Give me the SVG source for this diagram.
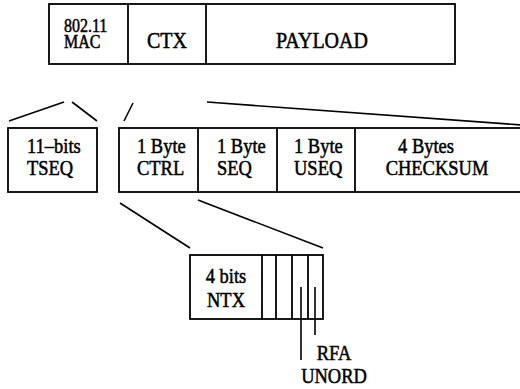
<svg xmlns="http://www.w3.org/2000/svg" width="520" height="389" viewBox="0 0 520 389" font-family="'Liberation Serif', 'DejaVu Serif', 'Times New Roman', serif">
<style>
.box{fill:#fff;stroke:#000;stroke-width:1.8}
.div{stroke:#000;stroke-width:1.8}
.con line{stroke:#000;stroke-width:1.6}
text{font-family:'Liberation Serif','DejaVu Serif','Times New Roman',serif;fill:#000;stroke:#000;stroke-width:0.45}
.t1{font-size:20px}
.t0{font-size:16px}
.t2{font-size:18.5px}
</style>
<rect width="520" height="389" fill="#fff"/>
<g id="frame">
<rect class="box" x="49" y="4" width="406" height="60"/>
<line class="div" x1="128" y1="4" x2="128" y2="64"/>
<line class="div" x1="206" y1="4" x2="206" y2="64"/>
</g>
<g id="mac"><text class="t0" transform="translate(64,32) scale(1,1.12)">802.11</text><text class="t0" transform="translate(64,47.5) scale(1,1.12)">MAC</text></g>
<g id="ctx"><text class="t1" text-anchor="middle" transform="translate(167,48) scale(1,1.18)">CTX</text></g>
<g id="payload"><text class="t1" text-anchor="middle" transform="translate(322,48) scale(1,1.18)">PAYLOAD</text></g>
<g id="tseq">
<rect class="box" x="8" y="128" width="89" height="64"/>
<text class="t2" transform="translate(27,153) scale(1,1.15)">11–bits</text>
<text class="t2" transform="translate(27,175) scale(1,1.15)">TSEQ</text>
</g>
<g id="ctxfields">
<rect class="box" x="119" y="128" width="420" height="64"/>
<line class="div" x1="198" y1="128" x2="198" y2="192"/>
<line class="div" x1="277" y1="128" x2="277" y2="192"/>
<line class="div" x1="355" y1="128" x2="355" y2="192"/>
</g>
<g id="ctrl"><text class="t2" transform="translate(137,153) scale(1,1.15)">1 Byte</text><text class="t2" transform="translate(137,175) scale(1,1.15)">CTRL</text></g>
<g id="seq"><text class="t2" transform="translate(217,153) scale(1,1.15)">1 Byte</text><text class="t2" transform="translate(217,175) scale(1,1.15)">SEQ</text></g>
<g id="useq"><text class="t2" transform="translate(294,153) scale(1,1.15)">1 Byte</text><text class="t2" transform="translate(294,175) scale(1,1.15)">USEQ</text></g>
<g id="checksum"><text class="t2" text-anchor="middle" transform="translate(426,153) scale(1,1.15)">4 Bytes</text><text class="t2" text-anchor="middle" transform="translate(437,175) scale(1,1.15)">CHECKSUM</text></g>
<g id="ntx">
<rect class="box" x="190" y="255" width="133" height="64"/>
<line class="div" x1="262" y1="255" x2="262" y2="319"/>
<line class="div" x1="276" y1="255" x2="276" y2="319"/>
<line class="div" x1="292" y1="255" x2="292" y2="319"/>
<line class="div" x1="308" y1="255" x2="308" y2="319"/>
<text class="t2" text-anchor="middle" transform="translate(226,283) scale(1,1.15)">4 bits</text>
<text class="t2" text-anchor="middle" transform="translate(226,307) scale(1,1.15)">NTX</text>
</g>
<g id="rfa"><text class="t2" text-anchor="middle" transform="translate(334,360) scale(1,1.15)">RFA</text></g>
<g id="unord"><text class="t2" text-anchor="middle" transform="translate(334,383) scale(1,1.15)">UNORD</text></g>
<g id="connectors" class="con">
<line x1="64" y1="102" x2="9" y2="121"/>
<line x1="72" y1="102" x2="97" y2="121"/>
<line x1="133" y1="103" x2="124" y2="121"/>
<line x1="207" y1="102" x2="522" y2="125"/>
<line x1="120" y1="203" x2="190" y2="248"/>
<line x1="198" y1="200" x2="323" y2="248"/>
<line x1="301" y1="287" x2="301" y2="360"/>
<line x1="315" y1="287" x2="315" y2="335"/>
</g>
</svg>
